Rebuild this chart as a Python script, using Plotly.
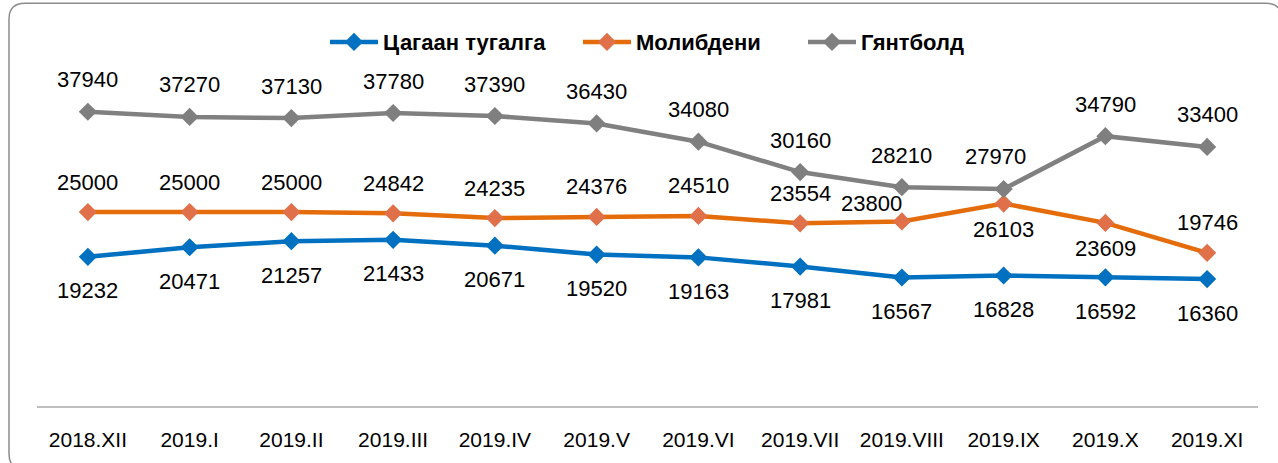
import plotly.graph_objects as go

months = ["2018.XII", "2019.I", "2019.II", "2019.III", "2019.IV", "2019.V",
          "2019.VI", "2019.VII", "2019.VIII", "2019.IX", "2019.X", "2019.XI"]
tin = [19232, 20471, 21257, 21433, 20671, 19520, 19163, 17981, 16567, 16828, 16592, 16360]
molybdenum = [25000, 25000, 25000, 24842, 24235, 24376, 24510, 23554, 23800, 26103, 23609, 19746]
gantbold = [37940, 37270, 37130, 37780, 37390, 36430, 34080, 30160, 28210, 27970, 34790, 33400]

names = ["Цагаан тугалга", "Молибдени", "Гянтболд"]

# style: label placement per series (shift in px)
label_pos = {
    0: [(0, -34)] * 12,
    1: [(0, 30)] * 8 + [(-30, 18), (0, -26), (0, -26), (0, 30)],
    2: [(0, 32)] * 9 + [(-8, 33), (0, 32), (0, 32)],
}
line_colors = ["#0070C0", "#E46C0A", "#808080"]
marker_colors = ["#0070C0", "#E0704A", "#7F7F7F"]
legend_ids = ["legend", "legend2", "legend3"]

FONT = "Liberation Sans, Arial, sans-serif"

fig = go.Figure()
series = [tin, molybdenum, gantbold]
for i, vals in enumerate(series):
    fig.add_trace(go.Scatter(
        x=months, y=vals, name=names[i], mode="lines+markers",
        line=dict(color=line_colors[i], width=4.5),
        marker=dict(symbol="diamond", size=14, color=marker_colors[i]),
        legend=legend_ids[i],
    ))

annotations = []
for i, vals in enumerate(series):
    for j, v in enumerate(vals):
        dx, dy = label_pos[i][j]
        annotations.append(dict(
            x=months[j], y=v, xref="x", yref="y", text=str(v), showarrow=False,
            xshift=dx, yshift=dy,
            font=dict(family=FONT, size=22, color="#000000"),
        ))

# rounded chart border (paper coords relative to plot area)
L, R, T, B = 37, 1258, 57, 408
W, H = R - L, B - T
def px(xp):
    return (xp - L) / W
def py(yp):
    return (B - yp) / H
x0, x1, y0, y1, r = 9, 1282, 3, 472, 16
path = (f"M {px(x0 + r)},{py(y0)} L {px(x1 - r)},{py(y0)} Q {px(x1)},{py(y0)} {px(x1)},{py(y0 + r)} "
        f"L {px(x1)},{py(y1 - r)} Q {px(x1)},{py(y1)} {px(x1 - r)},{py(y1)} "
        f"L {px(x0 + r)},{py(y1)} Q {px(x0)},{py(y1)} {px(x0)},{py(y1 - r)} "
        f"L {px(x0)},{py(y0 + r)} Q {px(x0)},{py(y0)} {px(x0 + r)},{py(y0)} Z")

legend_x = [325, 578, 803]
legend_common = dict(orientation="h", yanchor="middle", y=py(42), xanchor="left",
                     font=dict(family=FONT, size=22, color="#000000", weight="bold"),
                     itemwidth=48, bgcolor="rgba(0,0,0,0)")

fig.update_layout(
    width=1278, height=463,
    margin=dict(l=L, r=1278 - R, t=T, b=463 - B),
    paper_bgcolor="white", plot_bgcolor="white",
    annotations=annotations,
    shapes=[dict(type="path", xref="paper", yref="paper", path=path,
                 line=dict(color="#8C8C8C", width=1.5), layer="below")],
    showlegend=True,
    legend=dict(x=px(legend_x[0]), **legend_common),
    legend2=dict(x=px(legend_x[1]), **legend_common),
    legend3=dict(x=px(legend_x[2]), **legend_common),
    xaxis=dict(showgrid=False, showline=True, linecolor="#BFBFBF", linewidth=1.5,
               range=[-0.5, 11.5], ticks="",
               tickfont=dict(family=FONT, size=21, color="#000000"),
               ticklabelstandoff=14, zeroline=False, fixedrange=True),
    yaxis=dict(range=[0, 45000], visible=False, showgrid=False, zeroline=False),
)

fig.write_html("out.html")
